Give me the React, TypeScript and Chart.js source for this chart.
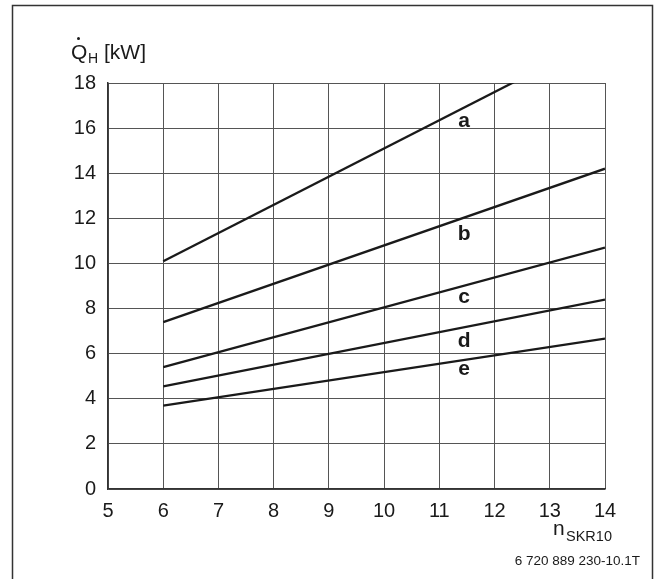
import React, { useEffect, useRef } from "react";
import { Chart, registerables } from "chart.js";

Chart.register(...registerables);

// ---- data ----
const xPoints = [6, 14];
const seriesA = [10.1, 20.1];
const seriesB = [7.4, 14.2];
const seriesC = [5.4, 10.7];
const seriesD = [4.55, 8.4];
const seriesE = [3.7, 6.67];
const seriesNames = ["a", "b", "c", "d", "e"];
const labelX = 11.45;
const labelY = [16.06, 11.04, 8.24, 6.29, 5.05];
const xMin = 5;
const xMax = 14;
const yMin = 0;
const yMax = 18;
const yStep = 2;
const footnote = "6 720 889 230-10.1T";

const FONT = '"Liberation Sans", Arial, Helvetica, sans-serif';
const INK = "#1a1a1a";

const allSeries = [seriesA, seriesB, seriesC, seriesD, seriesE];

const annotatePlugin = {
  id: "annotate",
  afterDatasetsDraw(chart: any) {
    const { ctx, scales } = chart;
    const xs = scales.x;
    const ys = scales.y;
    ctx.save();
    ctx.fillStyle = INK;
    ctx.font = `bold 21px ${FONT}`;
    ctx.textAlign = "center";
    ctx.textBaseline = "alphabetic";
    seriesNames.forEach((n, i) => {
      ctx.fillText(n, xs.getPixelForValue(labelX), ys.getPixelForValue(labelY[i]));
    });
    ctx.restore();
  },
  afterDraw(chart: any) {
    const { ctx } = chart;
    ctx.save();
    // outer frame (open at the bottom)
    ctx.strokeStyle = "#333";
    ctx.lineWidth = 1.5;
    ctx.beginPath();
    ctx.moveTo(12.5, 579);
    ctx.lineTo(12.5, 5.5);
    ctx.lineTo(652.5, 5.5);
    ctx.lineTo(652.5, 579);
    ctx.stroke();

    ctx.fillStyle = INK;
    ctx.textBaseline = "alphabetic";
    ctx.textAlign = "left";
    // y title: Q-dot_H [kW]
    ctx.font = `21px ${FONT}`;
    ctx.fillText("Q", 71, 59);
    ctx.beginPath();
    ctx.arc(78.5, 38.5, 1.5, 0, Math.PI * 2);
    ctx.fill();
    ctx.font = `14px ${FONT}`;
    ctx.fillText("H", 88, 63);
    ctx.font = `21px ${FONT}`;
    ctx.fillText("[kW]", 104, 59);

    // x title: n_SKR10
    ctx.font = `21px ${FONT}`;
    ctx.fillText("n", 553, 535);
    ctx.font = `14.5px ${FONT}`;
    ctx.fillText("SKR10", 566, 541);

    // footnote
    ctx.font = `13.5px ${FONT}`;
    ctx.textAlign = "right";
    ctx.fillText(footnote, 640, 565);
    ctx.restore();
  },
};

export default function App() {
  const ref = useRef<HTMLCanvasElement | null>(null);
  useEffect(() => {
    if (!ref.current) return;
    const chart = new Chart(ref.current, {
      type: "line",
      data: {
        datasets: allSeries.map((s, i) => ({
          label: seriesNames[i],
          data: xPoints.map((x, j) => ({ x, y: s[j] })),
          borderColor: INK,
          borderWidth: 2.3,
          pointRadius: 0,
          fill: false,
          tension: 0,
        })),
      },
      options: {
        animation: false,
        responsive: false,
        devicePixelRatio: 1,
        layout: { padding: { top: 83, right: 51, left: 0, bottom: 0 } },
        plugins: {
          legend: { display: false },
          tooltip: { enabled: false },
          title: { display: false },
        },
        scales: {
          x: {
            type: "linear",
            min: xMin,
            max: xMax,
            afterFit: (s: any) => {
              s.height = 90;
            },
            ticks: {
              stepSize: 1,
              autoSkip: false,
              maxRotation: 0,
              padding: 10,
              color: INK,
              font: { family: FONT, size: 20 },
            },
            grid: { color: "#555", lineWidth: 1, drawTicks: false },
            border: { color: "#333", width: 1.5 },
          },
          y: {
            type: "linear",
            min: yMin,
            max: yMax,
            afterFit: (s: any) => {
              s.width = 108;
            },
            ticks: {
              stepSize: yStep,
              autoSkip: false,
              padding: 12,
              color: INK,
              font: { family: FONT, size: 20 },
            },
            grid: { color: "#555", lineWidth: 1, drawTicks: false },
            border: { color: "#333", width: 1.5 },
          },
        },
      },
      plugins: [annotatePlugin],
    });
    return () => chart.destroy();
  }, []);
  return (
    <div style={{ position: "fixed", left: 0, top: 0, width: 656, height: 579, background: "#fff" }}>
      <canvas ref={ref} width={656} height={579} style={{ display: "block", width: 656, height: 579 }} />
    </div>
  );
}
